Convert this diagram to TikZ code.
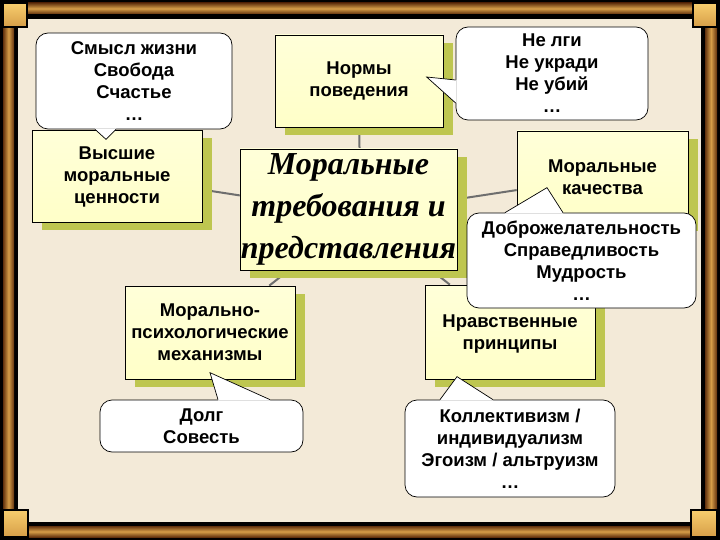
\documentclass[tikz,border=0pt]{standalone}
\usepackage{fontspec}
\setmainfont{Liberation Sans}
\newfontfamily\moralfont{Liberation Serif}
\usetikzlibrary{shadows}

\definecolor{parch}{RGB}{243,234,216}
\definecolor{boxfill}{RGB}{255,255,200}
\definecolor{boxshade}{RGB}{190,198,80}
\definecolor{linkgray}{RGB}{110,110,110}
\definecolor{framebrown}{RGB}{98,50,14}
\definecolor{framegold}{RGB}{214,158,72}
\definecolor{cornergold}{RGB}{248,206,110}

\pgfdeclarelayer{frame}
\pgfdeclarelayer{links}
\pgfsetlayers{frame,links,main}

\begin{document}
\begin{tikzpicture}[
  x=1pt, y=-1pt,
  txt/.style={font=\fontsize{18.5}{22}\selectfont\bfseries},
  box/.style={txt, draw=black, line width=0.7pt, top color=boxfill!70!white, bottom color=boxfill,
    minimum width=170pt, minimum height=92pt, align=center, inner sep=1pt,
    drop shadow={shadow xshift=10pt, shadow yshift=-8pt, fill=boxshade, opacity=1}},
  note/.style={txt, draw=black, line width=0.7pt, fill=white, rounded corners=12pt,
    align=center, inner sep=2pt},
  tipfill/.style={fill=white},
  tipline/.style={draw=black, line width=0.7pt},
  link/.style={draw=linkgray, line width=2pt}
]
% frame
\begin{pgfonlayer}{frame}
\fill[black] (0,0) rectangle (720,540);
\shade[top color=framebrown, bottom color=framebrown, middle color=framegold] (3,3) rectangle (717,14);
\shade[top color=framebrown, bottom color=framebrown, middle color=framegold] (3,526) rectangle (717,537);
\shade[left color=framebrown, right color=framebrown, middle color=framegold] (3,3) rectangle (14,537);
\shade[left color=framebrown, right color=framebrown, middle color=framegold] (705,3) rectangle (717,537);
\fill[parch] (18,19) rectangle (701,522);
\shade[draw=black, line width=1.5pt, top color=cornergold, bottom color=framegold] (3,3) rectangle (27,27);
\shade[draw=black, line width=1.5pt, top color=cornergold, bottom color=framegold] (693,3) rectangle (717,27);
\shade[draw=black, line width=1.5pt, top color=cornergold, bottom color=framegold] (3,510) rectangle (28,537);
\shade[draw=black, line width=1.5pt, top color=cornergold, bottom color=framegold] (691,510) rectangle (717,537);
\end{pgfonlayer}

% centre
\coordinate (hub) at (360,214);
\node[box, minimum width=217pt, minimum height=121pt, font=\moralfont\fontsize{32}{42}\selectfont\bfseries\itshape]
  (moral) at (348.5,209.5) {Моральные\\требования и\\представления};

% boxes
\node[box] (vys) at (117,176.5) {Высшие\\моральные\\ценности};
\node[box, minimum width=168pt] (norm) at (359,81) {Нормы\\поведения};
\node[box, minimum width=171pt] (kach) at (602.5,177) {Моральные\\качества};
\node[box, minimum height=93pt] (meh) at (210,332.5) {Морально-\\психологические\\механизмы};
\node[box, minimum height=94pt] (princ) at (510,332) {\\[-6pt]Нравственные\\принципы};

% links
\begin{pgfonlayer}{links}
\foreach \n in {vys,norm,kach,meh,princ}
  \draw[link] (hub) -- (\n);
\end{pgfonlayer}

% callouts
\node[note, minimum width=196pt, minimum height=96pt] (smysl) at (134,81) {Смысл жизни\\Свобода\\Счастье\\…};
\fill[tipfill] ([xshift=-39pt,yshift=1pt]smysl.south) -- ([xshift=-39pt]smysl.south) -- ([xshift=-28pt,yshift=-10pt]smysl.south)
  -- ([xshift=-18pt]smysl.south) -- ([xshift=-18pt,yshift=1pt]smysl.south) -- cycle;
\draw[tipline] ([xshift=-39pt]smysl.south) -- ([xshift=-28pt,yshift=-10pt]smysl.south) -- ([xshift=-18pt]smysl.south);

\node[note, minimum width=192pt, minimum height=93pt] (nelgi) at (552,73.5) {Не лги\\Не укради\\Не убий\\…};
\fill[tipfill] ([xshift=1pt,yshift=-6.5pt]nelgi.west) -- ([yshift=-6.5pt]nelgi.west) -- ([xshift=-29pt,yshift=-3.5pt]nelgi.west)
  -- ([yshift=-29.5pt]nelgi.west) -- ([xshift=1pt,yshift=-29.5pt]nelgi.west) -- cycle;
\draw[tipline] ([yshift=-6.5pt]nelgi.west) -- ([xshift=-29pt,yshift=-3.5pt]nelgi.west) -- ([yshift=-29.5pt]nelgi.west);

\node[note, minimum width=229pt, minimum height=95pt] (dobro) at (581.5,260.5) {Доброжелательность\\Справедливость\\Мудрость\\…};
\fill[tipfill] ([xshift=-76.5pt,yshift=-1pt]dobro.north) -- ([xshift=-76.5pt]dobro.north) -- ([xshift=-34.5pt,yshift=25pt]dobro.north)
  -- ([xshift=-18.5pt]dobro.north) -- ([xshift=-18.5pt,yshift=-1pt]dobro.north) -- cycle;
\draw[tipline] ([xshift=-76.5pt]dobro.north) -- ([xshift=-34.5pt,yshift=25pt]dobro.north) -- ([xshift=-18.5pt]dobro.north);

\node[note, minimum width=203pt, minimum height=52pt] (dolg) at (201.5,426) {Долг\\Совесть};
\fill[tipfill] ([xshift=16.5pt,yshift=-1pt]dolg.north) -- ([xshift=16.5pt]dolg.north) -- ([xshift=8.5pt,yshift=27pt]dolg.north)
  -- ([xshift=68.5pt]dolg.north) -- ([xshift=68.5pt,yshift=-1pt]dolg.north) -- cycle;
\draw[tipline] ([xshift=16.5pt]dolg.north) -- ([xshift=8.5pt,yshift=27pt]dolg.north) -- ([xshift=68.5pt]dolg.north);

\node[note, minimum width=210pt, minimum height=97pt] (koll) at (510,448.5) {Коллективизм /\\индивидуализм\\Эгоизм / альтруизм\\…};
\fill[tipfill] ([xshift=-70pt,yshift=-1pt]koll.north) -- ([xshift=-70pt]koll.north) -- ([xshift=-53pt,yshift=23pt]koll.north)
  -- ([xshift=-17pt]koll.north) -- ([xshift=-17pt,yshift=-1pt]koll.north) -- cycle;
\draw[tipline] ([xshift=-70pt]koll.north) -- ([xshift=-53pt,yshift=23pt]koll.north) -- ([xshift=-17pt]koll.north);
\end{tikzpicture}
\end{document}
